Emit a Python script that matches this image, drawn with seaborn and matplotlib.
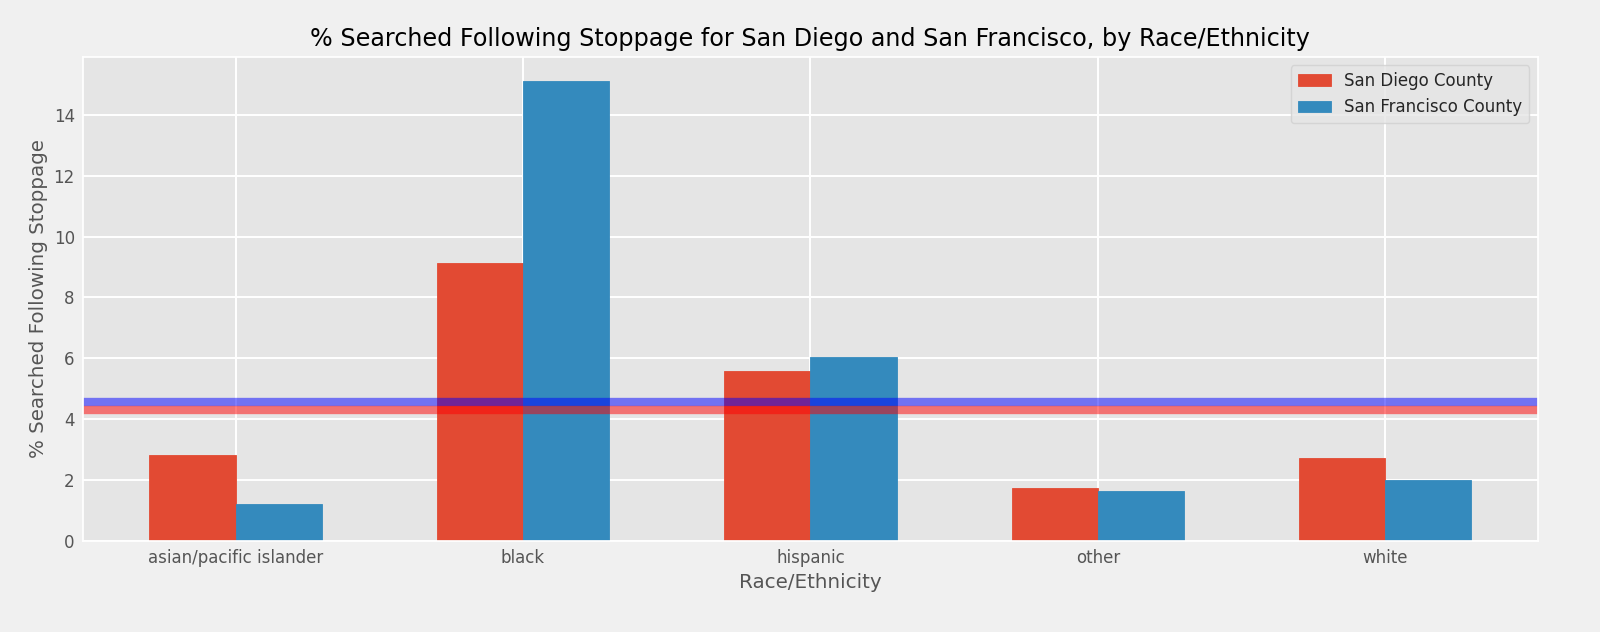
import pandas as pd
import numpy as np
import matplotlib
matplotlib.use("Agg")
import matplotlib.pyplot as plt
import seaborn as sns

races = ["asian/pacific islander", "black", "hispanic", "other", "white"]
san_diego = [2.83, 9.14, 5.59, 1.74, 2.73]
san_francisco = [1.22, 15.12, 6.05, 1.64, 2.00]
sd_overall = 4.29
sf_overall = 4.57

df = pd.DataFrame({
    "race": races * 2,
    "pct": san_diego + san_francisco,
    "county": ["San Diego County"] * len(races) + ["San Francisco County"] * len(races),
})

sns.set_theme(style="darkgrid")
plt.rcParams.update({
    "figure.facecolor": "#F0F0F0",
    "axes.facecolor": "#E5E5E5",
    "axes.edgecolor": "white",
    "grid.color": "white",
    "grid.linewidth": 1.4,
    "axes.labelcolor": "#555555",
    "xtick.color": "#555555",
    "ytick.color": "#555555",
})
plt.rcParams["font.family"] = ["DejaVu Sans"]

fig, ax = plt.subplots(figsize=(16, 6.32), dpi=100)
sns.barplot(data=df, x="race", y="pct", hue="county",
            palette=["#E24A33", "#348ABD"], width=0.6, saturation=1,
            edgecolor=None, linewidth=0.6, ax=ax)
for bar in ax.patches:
    bar.set_edgecolor(bar.get_facecolor())

# overall search rates
ax.axhline(sf_overall, color="blue", lw=6, alpha=0.5)
ax.axhline(sd_overall, color="red", lw=6, alpha=0.5)

ax.set_xlim(-0.53, 4.53)
ax.set_ylim(0, 15.9)
ax.set_yticks([0, 2, 4, 6, 8, 10, 12, 14])
ax.tick_params(axis="both", labelsize=12, length=0, pad=6)
ax.grid(True, axis="both")
ax.set_title("% Searched Following Stoppage for San Diego and San Francisco, by Race/Ethnicity",
             fontsize=17.2, color="black", pad=8)
ax.set_xlabel("Race/Ethnicity", fontsize=14.3)
ax.set_ylabel("% Searched Following Stoppage", fontsize=14.3)
ax.legend(loc="upper right", fontsize=12, frameon=True, facecolor="#E5E5E5",
          edgecolor="#D0D0D0", title=None)

fig.subplots_adjust(left=0.052, right=0.961, top=0.91, bottom=0.144)
fig.savefig("out.png", dpi=100, facecolor=fig.get_facecolor())
